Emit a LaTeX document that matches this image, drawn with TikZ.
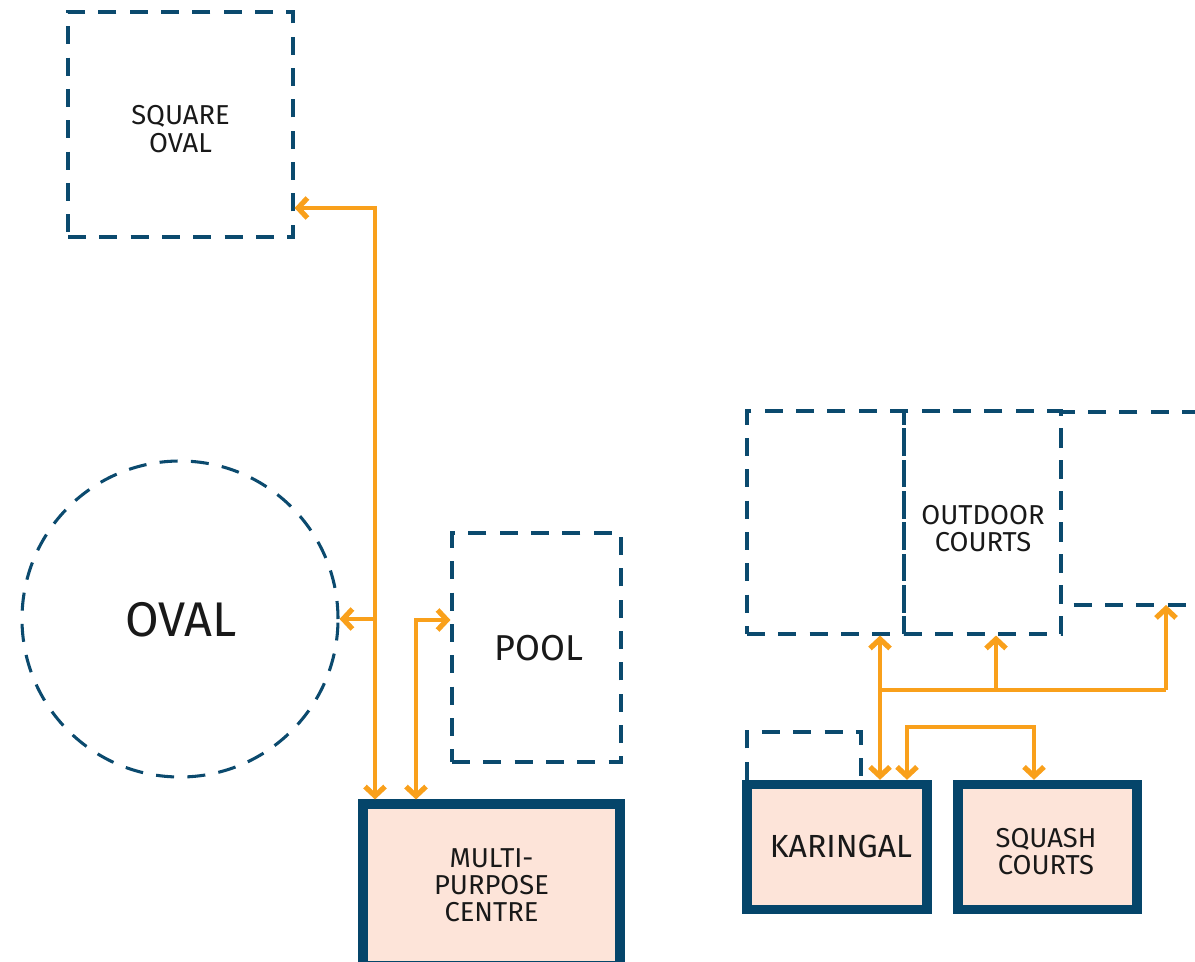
\documentclass[tikz,border=0pt]{standalone}
\usepackage{fontspec}
\setmainfont{Fira Sans}
\usetikzlibrary{arrows.meta}
\definecolor{navy}{HTML}{0B4A6E}
\definecolor{boxedge}{HTML}{05456A}
\definecolor{peach}{HTML}{FDE4D9}
\definecolor{amber}{HTML}{F9A01B}
\tikzset{
  zone/.style={draw=navy, line width=2.3pt, dash pattern=on 13.5pt off 10pt,
    inner sep=0pt},
  zoneline/.style={draw=navy, line width=2.3pt, dash pattern=on 13.5pt off 10pt},
  venue/.style={draw=boxedge, fill=peach, line width=6.8pt, inner sep=0pt},
  caption/.style={inner sep=0pt, align=center, text=black!90},
  chev/.tip={Straight Barb[length=7pt, width=15pt, line width=3.9pt]},
  link/.style={draw=amber, line width=2.3pt, {chev}-{chev}},
  feed/.style={draw=amber, line width=2.3pt, -{chev}},
  wire/.style={draw=amber, line width=2.3pt},
  small/.style={font=\fontsize{20.5}{20.4}\selectfont},
  mid/.style={font=\fontsize{24}{26}\selectfont},
  large/.style={font=\fontsize{27}{29}\selectfont},
  huge/.style={font=\fontsize{36.5}{38}\selectfont}
}
\begin{document}
\begin{tikzpicture}[x=0.75pt, y=-0.75pt]
\useasboundingbox (0,0) rectangle (1195,962);
\clip (0,0) rectangle (1195,962);

% open areas (dashed outlines)
\node[zone, minimum width=168.75pt, minimum height=168.75pt] (sqoval) at (180.5,124.5) {};
\node[zone, circle, minimum size=237pt] (oval) at (180,619) {};
\node[zone, minimum width=126.75pt, minimum height=171.75pt] (pool) at (536.5,647.5) {};
\node[zone, minimum width=117.75pt, minimum height=167.25pt] (courtA) at (825.5,522.5) {};
\node[zone, minimum width=117.75pt, minimum height=167.25pt] (courtB) at (982.5,522.5) {};
\coordinate (courtCtop) at (1061,412);
\coordinate (courtCfoot) at (1061,605);
\draw[zoneline] (1200,412) -- (courtCtop) -- (courtCfoot) -- (1200,605);

% buildings (solid outlines)
\node[venue, minimum width=192.75pt, minimum height=121.5pt] (mpc) at (491.5,885) {};
\node[venue, minimum width=135pt, minimum height=94pt] (kar) at (837,847) {};
\node[venue, minimum width=134.25pt, minimum height=94pt] (squash) at (1047.5,847) {};

% captions
\node[caption, small] (sqovalT) at (180.5,129) {SQUARE\\OVAL};
\node[caption, huge] (ovalT) at (181,620) {OVAL};
\node[caption, large] (poolT) at (539,648) {POOL};
\node[caption, small] (courtT) at (983,528.5) {OUTDOOR\\COURTS};
\node[caption, small] (mpcT) at (491.5,885.5) {MULTI-\\PURPOSE\\CENTRE};
\node[caption, mid] (karT) at (841,846) {KARINGAL};
\node[caption, small] (squashT) at (1046,851.5) {SQUASH\\COURTS};

% annex outline on top of Karingal
\coordinate (annexL) at (747,732);
\coordinate (annexR) at (861,732);
\draw[zoneline] (annexL |- kar.north) -- (annexL) -- (annexR) -- (annexR |- kar.north);

% links from the multi-purpose centre
\coordinate (j1) at (375,208);
\coordinate (j1o) at (375,619);
\draw[link] (j1 |- mpc.north) -- (j1) -- (sqoval.east |- j1);
\draw[feed] (j1o) -- (oval.east);
\coordinate (j2) at (416,620);
\draw[link] (j2 |- mpc.north) -- (j2) -- (pool.west |- j2);

% links from Karingal to the outdoor courts
\coordinate (j3) at (880,690);
\coordinate (j3b) at (996,690);
\coordinate (j3c) at (1166,690);
\draw[link] (j3 |- kar.north) -- (j3 |- courtA.south);
\draw[wire] (j3) -- (j3c);
\draw[feed] (j3b) -- (j3b |- courtB.south);
\draw[feed] (j3c) -- (j3c |- courtCfoot);

% link from Karingal to the squash courts
\coordinate (j4) at (907,727);
\coordinate (j4b) at (1034,727);
\draw[link] (j4 |- kar.north) -- (j4) -- (j4b) -- (j4b |- squash.north);
\end{tikzpicture}
\end{document}
